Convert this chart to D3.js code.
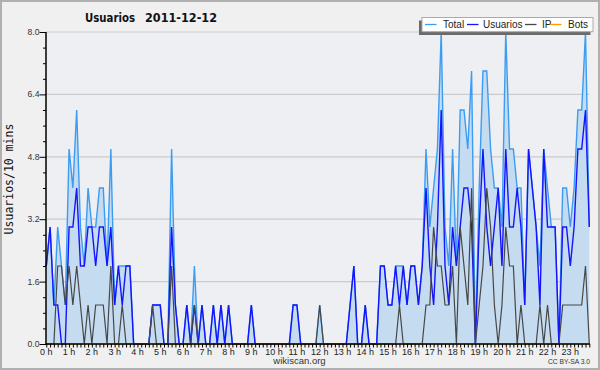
<!DOCTYPE html>
<html><head><meta charset="utf-8">
<script src="https://cdn.jsdelivr.net/npm/d3@7"></script>
<style>body{margin:0;background:#f0f0f0}svg{display:block}</style>
</head><body>
<svg id="chart" width="600" height="370"></svg>
<script>
const chartTitle = "Usuarios";
const chartDate = "2011-12-12";
const yAxisLabel = "Usuarios/10 mins";
const seriesNames = ["Total", "Usuarios", "IP", "Bots"];
const hourLabels = ["0 h","1 h","2 h","3 h","4 h","5 h","6 h","7 h","8 h","9 h","10 h","11 h","12 h","13 h","14 h","15 h","16 h","17 h","18 h","19 h","20 h","21 h","22 h","23 h"];
const yTickValues = [0.0, 1.6, 3.2, 4.8, 6.4, 8.0];

const total = [
 2,3,1,3,2,1,5,4,6,3,2,4,
 3,3,4,4,2,5,1,2,2,2,2,0,
 0,0,0,0,1,1,1,0,0,5,1,0,
 0,1,0,2,0,1,0,0,1,0,1,0,
 1,0,0,0,0,0,1,0,0,0,0,0,
 0,0,0,0,0,1,1,0,0,0,0,0,
 1,0,0,0,0,0,0,0,1,2,0,0,
 1,0,0,0,2,2,1,1,2,2,2,1,
 2,2,1,2,5,3,4,5,8,3,2,5,
 2,6,6,5,7,0,4,7,7,5,4,4,
 3,8,5,5,4,4,1,5,4,3,2,5,
 4,3,3,0,4,4,3,4,6,6,8,3
];
const usuarios = [
 2,3,1,1,0,0,3,3,4,2,2,3,
 3,2,3,3,2,3,1,2,1,2,2,0,
 0,0,0,0,1,1,1,0,0,3,1,0,
 0,1,0,1,0,1,0,0,1,0,1,0,
 1,0,0,0,0,0,1,0,0,0,0,0,
 0,0,0,0,0,1,1,0,0,0,0,0,
 0,0,0,0,0,0,0,0,1,2,0,0,
 1,0,0,0,2,2,1,1,2,1,2,1,
 2,2,1,2,4,2,1,3,6,2,1,3,
 2,3,4,4,3,0,3,5,3,2,3,4,
 2,5,3,3,4,3,1,5,4,3,1,5,
 3,3,3,0,3,3,2,3,5,5,6,3
];
const ip = [
 0,0,0,2,2,1,2,1,2,1,0,1,
 0,1,1,1,0,2,0,0,1,0,0,0,
 0,0,0,0,1,0,0,0,0,2,0,0,
 0,0,0,1,0,0,0,0,0,0,0,0,
 0,0,0,0,0,0,0,0,0,0,0,0,
 0,0,0,0,0,0,0,0,0,0,0,0,
 1,0,0,0,0,0,0,0,0,0,0,0,
 0,0,0,0,0,0,0,0,0,1,0,0,
 0,0,0,0,1,1,3,2,2,1,1,2,
 0,3,2,1,4,0,1,2,4,3,1,0,
 1,3,2,2,0,1,0,0,0,0,1,0,
 1,0,0,0,1,1,1,1,1,1,2,0
];
const bots = [
 0,0,0,0,0,0,0,0,0,0,0,0,
 0,0,0,0,0,0,0,0,0,0,0,0,
 0,0,0,0,0,0,0,0,0,0,0,0,
 0,0,0,0,0,0,0,0,0,0,0,0,
 0,0,0,0,0,0,0,0,0,0,0,0,
 0,0,0,0,0,0,0,0,0,0,0,0,
 0,0,0,0,0,0,0,0,0,0,0,0,
 0,0,0,0,0,0,0,0,0,0,0,0,
 0,0,0,0,0,0,0,0,0,0,0,0,
 0,0,0,0,0,0,0,0,0,0,0,0,
 0,0,0,0,0,0,0,0,0,0,0,0,
 0,0,0,0,0,0,0,0,0,0,0,0
];

const colors = {Total:"#3c9cf2", Usuarios:"#1414ff", IP:"#474747", Bots:"#ff9a00"};
const fillTotal = "#c5dcf0";

(function(){
const svg = d3.select("#chart");
const W = 600, H = 370;
const pL = 46.3, pR = 589.3, pT = 32, pB = 344;

svg.append("rect").attr("x",0).attr("y",0).attr("width",W).attr("height",H).attr("fill","#f0f0f0");
svg.append("rect").attr("x",1).attr("y",1).attr("width",W-2).attr("height",H-2)
  .attr("fill","none").attr("stroke","#b0b0b0").attr("stroke-width",2);
svg.append("rect").attr("x",46).attr("y",pT).attr("width",pR-46).attr("height",pB-pT).attr("fill","#eeeff2");

const x = d3.scaleLinear().domain([0, total.length-1]).range([pL, pR]);
const y = d3.scaleLinear().domain([0, 8]).range([pB, pT]);

svg.append("g").selectAll("line").data(yTickValues.filter(v=>v>0)).join("line")
  .attr("x1",46).attr("x2",pR).attr("y1",d=>y(d)).attr("y2",d=>y(d))
  .attr("stroke","#cbcbcb").attr("stroke-width",1.2);

const idx = d3.range(total.length);
const area = d3.area().x(i=>x(i)).y0(y(0)).y1(i=>y(total[i]));
svg.append("path").datum(idx).attr("d",area).attr("fill",fillTotal);

function drawLine(arr, color, w){
  const line = d3.line().x(i=>x(i)).y(i=>y(arr[i]));
  svg.append("path").datum(idx).attr("d",line).attr("fill","none")
    .attr("stroke",color).attr("stroke-width",w).attr("stroke-linejoin","miter");
}
drawLine(total, colors.Total, 1.4);
drawLine(usuarios, colors.Usuarios, 1.4);
drawLine(ip, colors.IP, 1.2);
drawLine(bots, colors.Bots, 1.2);

const yAxis = d3.axisLeft(y).tickValues(d3.range(0, 8.01, 0.4)).tickSize(3).tickFormat("");
const gy = svg.append("g").attr("transform","translate(46,0)").call(yAxis);
gy.select(".domain").remove();
gy.selectAll(".tick line").attr("stroke","#000").attr("x2", d => yTickValues.some(v=>Math.abs(v-d)<1e-6) ? -6.5 : -3);
svg.append("g").selectAll("text").data(yTickValues).join("text")
  .attr("x",39.5).attr("y",d=>y(d)+3).attr("text-anchor","end")
  .attr("font-family","Liberation Sans, Arial, sans-serif").attr("font-size",8.6).attr("fill","#333")
  .text(d=>d.toFixed(1));
svg.append("line").attr("x1",46).attr("x2",46).attr("y1",pT).attr("y2",pB+0.5).attr("stroke","#000").attr("stroke-width",1.5);

const xAxis = d3.axisBottom(x).tickValues(idx).tickSize(3.5).tickFormat("");
const gx = svg.append("g").attr("transform",`translate(0,${pB})`).call(xAxis);
gx.select(".domain").remove();
gx.selectAll(".tick line").attr("stroke","#000");
svg.append("line").attr("x1",45.5).attr("x2",pR+0.5).attr("y1",pB).attr("y2",pB).attr("stroke","#000").attr("stroke-width",1.5);
svg.append("g").selectAll("text").data(hourLabels).join("text")
  .attr("x",(d,h)=>x(h*6)).attr("y",354.5).attr("text-anchor","middle")
  .attr("font-family","Liberation Sans, Arial, sans-serif").attr("font-size",9).attr("fill","#222")
  .text(d=>d);

svg.append("text").attr("x",85).attr("y",21.5).attr("font-family","DejaVu Sans, sans-serif")
  .attr("font-weight","bold").attr("font-size",12).attr("fill","#111")
  .attr("textLength",50).attr("lengthAdjust","spacingAndGlyphs").text(chartTitle);
svg.append("text").attr("x",145).attr("y",21.5).attr("font-family","DejaVu Sans, sans-serif")
  .attr("font-weight","bold").attr("font-size",12).attr("fill","#111")
  .attr("textLength",72).attr("lengthAdjust","spacingAndGlyphs").text(chartDate);

svg.append("text").attr("transform","translate(13,179) rotate(-90)").attr("text-anchor","middle")
  .attr("font-family","DejaVu Sans Mono, monospace").attr("font-size",11.5).attr("fill","#111")
  .text(yAxisLabel);

svg.append("text").attr("x",299.5).attr("y",364).attr("text-anchor","middle")
  .attr("font-family","Liberation Sans, Arial, sans-serif").attr("font-size",9.5).attr("fill","#333").text("wikiscan.org");
svg.append("text").attr("x",590).attr("y",363.5).attr("text-anchor","end")
  .attr("font-family","Liberation Sans, Arial, sans-serif").attr("font-size",6.5).attr("fill","#333")
  .attr("textLength",42).attr("lengthAdjust","spacingAndGlyphs").text("CC BY-SA 3.0");

const lg = svg.append("g");
lg.append("rect").attr("x",419).attr("y",20.5).attr("width",171.5).attr("height",14.5).attr("fill","#6a6a6a");
lg.append("rect").attr("x",422).attr("y",17.5).attr("width",171).attr("height",14.2).attr("fill","#fff").attr("stroke","#aaa").attr("stroke-width",1);
const legendX = [[425,443],[467,483],[525,542],[550,568]];
seriesNames.forEach((n,k)=>{
  lg.append("line").attr("x1",legendX[k][0]).attr("x2",legendX[k][0]+11.5).attr("y1",24.5).attr("y2",24.5)
    .attr("stroke",colors[n]).attr("stroke-width",1.3);
  lg.append("text").attr("x",legendX[k][1]).attr("y",28.3).attr("font-family","Liberation Sans, Arial, sans-serif")
    .attr("font-size",10).attr("fill","#222").text(n);
});
})();
</script>
</body></html>
